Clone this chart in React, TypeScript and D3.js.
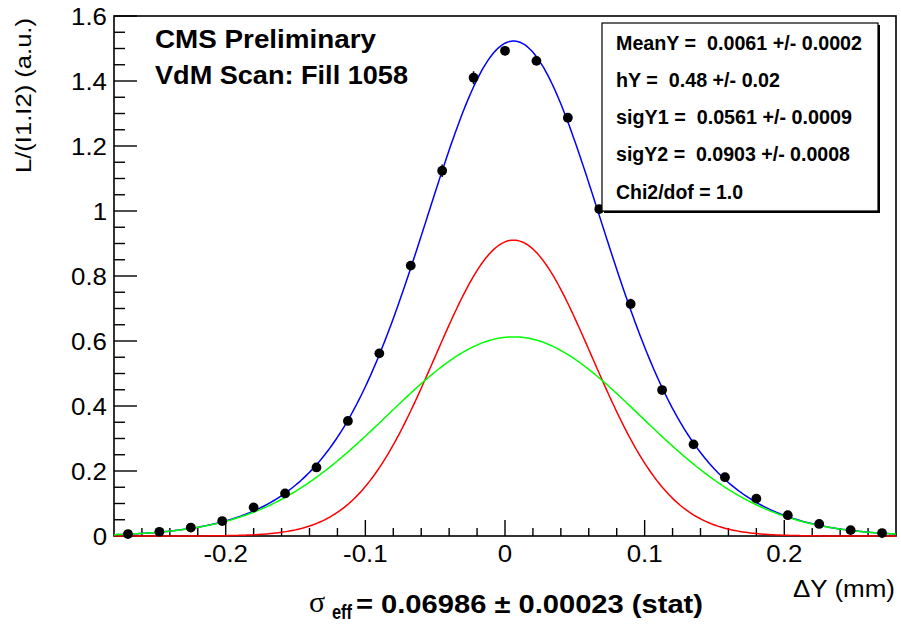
import React from 'react';
import * as d3 from 'd3';

// Scan step positions (mm) and measured normalised luminosity
const scanPositions = [
  -0.27, -0.2475, -0.225, -0.2025, -0.18, -0.1575, -0.135, -0.1125, -0.09, -0.0675, -0.045, -0.0225,
  0, 0.0225, 0.045, 0.0675, 0.09, 0.1125, 0.135, 0.1575, 0.18, 0.2025, 0.225, 0.2475, 0.27,
];
const luminosity = [
  0.006, 0.013, 0.026, 0.046, 0.088, 0.131, 0.211, 0.354, 0.562, 0.832, 1.124, 1.41,
  1.493, 1.462, 1.287, 1.006, 0.714, 0.449, 0.282, 0.181, 0.115, 0.064, 0.037, 0.018, 0.009,
];
const luminosityErr = [
  0.002, 0.002, 0.003, 0.003, 0.004, 0.005, 0.006, 0.008, 0.012, 0.013, 0.019, 0.02,
  0.014, 0.013, 0.013, 0.012, 0.016, 0.01, 0.008, 0.006, 0.004, 0.003, 0.003, 0.002, 0.002,
];

// Double-Gaussian fit result
const fitMean = 0.0061;
const fitFrac = 0.48;
const fitSig1 = 0.0561;
const fitSig2 = 0.0903;
const sigmaEff = 0.06986;
const fitPeak = 1.523;

const yTickValues = [0, 0.2, 0.4, 0.6, 0.8, 1, 1.2, 1.4, 1.6];
const yTickLabels = ['0', '0.2', '0.4', '0.6', '0.8', '1', '1.2', '1.4', '1.6'];
const xTickValues = [-0.2, -0.1, 0, 0.1, 0.2];
const xTickLabels = ['-0.2', '-0.1', '0', '0.1', '0.2'];

const statsLines = [
  'MeanY =  0.0061 +/- 0.0002',
  'hY =  0.48 +/- 0.02',
  'sigY1 =  0.0561 +/- 0.0009',
  'sigY2 =  0.0903 +/- 0.0008',
  'Chi2/dof = 1.0',
];

const FONT = '"Liberation Sans", Arial, Helvetica, sans-serif';

export default function App() {
  const W = 901;
  const H = 624;
  const left = 114;
  const right = 896;
  const top = 16;
  const bottom = 536;

  const x = d3.scaleLinear().domain([-0.28, 0.28]).range([left, right]);
  const y = d3.scaleLinear().domain([0, 1.6]).range([bottom, top]);

  const norm = fitPeak * sigmaEff;
  const gauss = (v: number, s: number) => Math.exp(-0.5 * ((v - fitMean) / s) ** 2);
  const narrow = (v: number) => (norm * fitFrac) / fitSig1 * gauss(v, fitSig1);
  const wide = (v: number) => (norm * (1 - fitFrac)) / fitSig2 * gauss(v, fitSig2);
  const total = (v: number) => narrow(v) + wide(v);

  const samples = d3.range(0, 501).map((i) => -0.28 + (0.56 * i) / 500);
  const line = (f: (v: number) => number) =>
    d3.line<number>().x((v) => x(v)).y((v) => y(f(v)))(samples) || '';

  const xMinor = d3.range(-0.26, 0.2601, 0.02).filter(
    (v) => !xTickValues.some((m) => Math.abs(m - v) < 1e-6)
  );
  const yMinor = d3.range(0.05, 1.6, 0.05).filter(
    (v) => !yTickValues.some((m) => Math.abs(m - v) < 1e-6)
  );

  const sx = 1.1;
  const statsWidths = [246, 164, 236, 234, 127];
  const statsBase = [49.5, 87, 124, 161, 199];

  return (
    <svg
      width={W}
      height={H}
      style={{ position: 'absolute', left: 0, top: 0, background: '#fff' }}
      fontFamily={FONT}
    >
      <rect x={0} y={0} width={W} height={H} fill="#fff" />

      {/* minor ticks */}
      {yMinor.map((v, i) => (
        <line key={'ym' + i} x1={left} x2={left + 11} y1={y(v)} y2={y(v)} stroke="#000" strokeWidth={1.4} />
      ))}
      {xMinor.map((v, i) => (
        <line key={'xm' + i} x1={x(v)} x2={x(v)} y1={bottom} y2={bottom - 8} stroke="#000" strokeWidth={1.4} />
      ))}
      {/* major ticks and labels */}
      {yTickValues.map((v, i) => (
        <g key={'yt' + i}>
          <line x1={left} x2={left + 23} y1={y(v)} y2={y(v)} stroke="#000" strokeWidth={1.4} />
          <text
            transform={`translate(107,${y(v) + 8.5}) scale(${sx},1)`}
            textAnchor="end"
            fontSize={23.5}
            fill="#000"
          >
            {yTickLabels[i]}
          </text>
        </g>
      ))}
      {xTickValues.map((v, i) => (
        <g key={'xt' + i}>
          <line x1={x(v)} x2={x(v)} y1={bottom} y2={bottom - 16} stroke="#000" strokeWidth={1.4} />
          <text
            transform={`translate(${x(v)},562) scale(${sx},1)`}
            textAnchor="middle"
            fontSize={23.5}
            fill="#000"
          >
            {xTickLabels[i]}
          </text>
        </g>
      ))}

      {/* frame */}
      <rect x={left} y={top} width={right - left} height={bottom - top} fill="none" stroke="#000" strokeWidth={1.6} />

      {/* fit curves */}
      <path d={line(total)} fill="none" stroke="#0000ff" strokeWidth={1.5} />
      <path d={line(narrow)} fill="none" stroke="#ff0000" strokeWidth={1.5} />
      <path d={line(wide)} fill="none" stroke="#00ff00" strokeWidth={1.5} />

      {/* data points */}
      {scanPositions.map((px, i) => (
        <g key={'p' + i}>
          <line
            x1={x(px)}
            x2={x(px)}
            y1={y(luminosity[i] - luminosityErr[i])}
            y2={y(luminosity[i] + luminosityErr[i])}
            stroke="#000"
            strokeWidth={1.5}
          />
          <circle cx={x(px)} cy={y(luminosity[i])} r={4.9} fill="#000" />
        </g>
      ))}

      {/* labels */}
      <text x={155} y={47.5} fontSize={25} fontWeight="bold" textLength={221} lengthAdjust="spacingAndGlyphs">
        CMS Preliminary
      </text>
      <text x={155} y={84} fontSize={25} fontWeight="bold" textLength={253} lengthAdjust="spacingAndGlyphs">
        VdM Scan: Fill 1058
      </text>

      {/* fit statistics box */}
      <rect x={604} y={25} width={276} height={188} fill="#000" />
      <rect x={602} y={23} width={276} height={188} fill="#fff" stroke="#000" strokeWidth={1.2} />
      {statsLines.map((s, i) => (
        <text
          key={'s' + i}
          x={616}
          y={statsBase[i]}
          fontSize={19.5}
          fontWeight="bold"
          textLength={statsWidths[i]}
          lengthAdjust="spacingAndGlyphs"
          style={{ whiteSpace: 'pre' }}
        >
          {s}
        </text>
      ))}

      {/* axis titles */}
      <text
        transform="translate(31,173) rotate(-90)"
        fontSize={22.5}
        textLength={155}
        lengthAdjust="spacingAndGlyphs"
      >
        L/(I1.I2) (a.u.)
      </text>
      <text x={793} y={597} fontSize={23.5} textLength={102} lengthAdjust="spacingAndGlyphs">
        ΔY (mm)
      </text>

      {/* effective width */}
      <text x={309} y={612} fontSize={30} fontFamily='"Liberation Serif", "DejaVu Serif", serif'>
        σ
      </text>
      <text x={332} y={619} fontSize={20} fontWeight="bold" textLength={20} lengthAdjust="spacingAndGlyphs">
        eff
      </text>
      <text
        x={356}
        y={613}
        fontSize={26}
        fontWeight="bold"
        textLength={347}
        lengthAdjust="spacingAndGlyphs"
      >
        = {sigmaEff.toFixed(5)} ± 0.00023 (stat)
      </text>
    </svg>
  );
}
